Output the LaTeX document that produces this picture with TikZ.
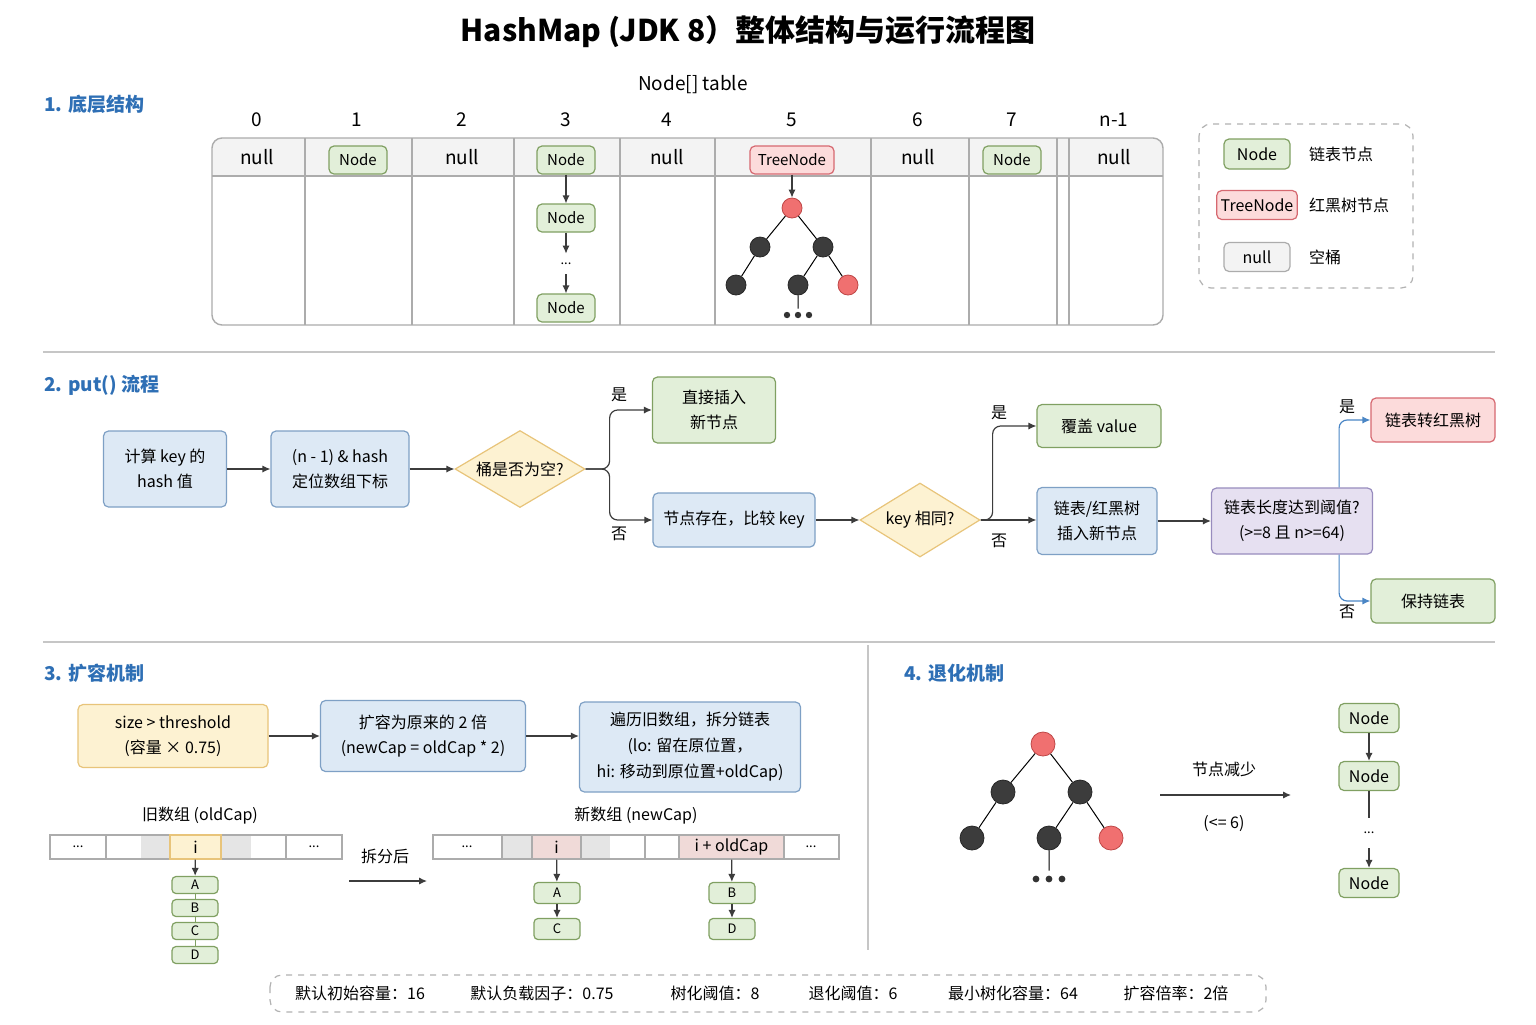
\documentclass[tikz,border=0pt]{standalone}
\usepackage{fontspec}
\setmainfont{Noto Sans CJK SC}
\usetikzlibrary{shapes.geometric,arrows.meta,positioning,calc}

\definecolor{headblue}{RGB}{46,111,181}
\definecolor{arrgray}{RGB}{60,60,60}
\definecolor{flowblue}{RGB}{74,134,197}
\definecolor{grfill}{RGB}{226,239,217}
\definecolor{grline}{RGB}{128,160,98}
\definecolor{rdfill}{RGB}{252,219,219}
\definecolor{rdline}{RGB}{214,104,112}
\definecolor{blfill}{RGB}{221,233,245}
\definecolor{blline}{RGB}{126,160,197}
\definecolor{ylfill}{RGB}{253,242,210}
\definecolor{ylline}{RGB}{232,196,122}
\definecolor{pufill}{RGB}{230,224,241}
\definecolor{puline}{RGB}{152,140,190}
\definecolor{nlfill}{RGB}{243,243,243}
\definecolor{treeblk}{RGB}{60,60,60}
\definecolor{treered}{RGB}{240,112,112}
\definecolor{treeredline}{RGB}{190,70,70}
\definecolor{cellpink}{RGB}{240,218,216}

\begin{document}
\begin{tikzpicture}[
  x=0.5pt, y=-0.5pt,
  font=\fontsize{8}{12.5}\selectfont,
  arr/.style={-{Latex[length=4pt,width=3.6pt]}, line width=0.6pt, draw=arrgray},
  barr/.style={arr, draw=flowblue},
  box/.style={draw, rounded corners=2.5pt, line width=0.6pt, align=center, inner sep=2pt},
  greenbox/.style={box, fill=grfill, draw=grline},
  redbox/.style={box, fill=rdfill, draw=rdline},
  bluebox/.style={box, fill=blfill, draw=blline},
  yellowbox/.style={box, fill=ylfill, draw=ylline},
  purplebox/.style={box, fill=pufill, draw=puline},
  nullbox/.style={box, fill=nlfill, draw=gray!65},
  tnode/.style={minimum width=29pt, minimum height=14pt, font=\fontsize{7.5}{9}\selectfont},
  decision/.style={diamond, aspect=1.7, draw=ylline, fill=ylfill, line width=0.6pt, align=center, inner sep=0.5pt},
  blacknode/.style={circle, fill=treeblk, draw=black!85, line width=0.4pt, minimum size=#1, inner sep=0pt},
  blacknode/.default=10pt,
  rednode/.style={circle, fill=treered, draw=treeredline, line width=0.4pt, minimum size=#1, inner sep=0pt},
  rednode/.default=10pt,
  dotsmark/.style={inner sep=0pt, minimum size=5pt}, % holds the three dots
  cellbox/.style={draw=gray!65, line width=0.6pt, minimum height=12pt, inner sep=0pt},
  chain/.style={greenbox, rounded corners=2pt, inner sep=0pt, minimum width=23pt, font=\fontsize{6.5}{8}\selectfont},
  head/.style={anchor=west, text=headblue, font=\fontsize{9.5}{12}\selectfont\bfseries},
  bigtext/.style={font=\fontsize{9.5}{12}\selectfont},
  smalltext/.style={font=\fontsize{6.5}{8}\selectfont},
  sepline/.style={gray!45, line width=0.6pt}
]
\useasboundingbox (0,0) rectangle (1536,1024);
\fill[white] (0,0) rectangle (1536,1024);

\node[font=\fontsize{15}{18}\selectfont\bfseries] (title) at (748,32) {HashMap (JDK 8）整体结构与运行流程图};

% 1. table
\node[head] (h1) at (37,104) {1. 底层结构};
\node[bigtext] (tbl) at (693,85) {Node[] table};
\foreach \lbl/\cx in {0/257,1/357,2/462,3/566,4/667,5/792,6/918,7/1012,n-1/1114}
  \node[bigtext] (idx\cx) at (\cx,120) {\lbl};
\begin{scope}
  \clip[rounded corners=5pt] (212,138) rectangle (1163,325);
  \fill[nlfill] (212,138) rectangle (1163,176);
\end{scope}
\draw[gray!65, line width=0.7pt, rounded corners=5pt] (212,138) rectangle (1163,325);
\draw[gray!65, line width=0.7pt] (212,176) -- (1163,176);
\foreach \cx in {305,412,514,620,715,871,969,1057,1069}
  \draw[gray!65, line width=0.7pt] (\cx,138) -- (\cx,325);

\node[bigtext] (b0) at (257,157) {null};
\node[greenbox, tnode] (b1) at (358,160) {Node};
\node[bigtext] (b2) at (462,157) {null};
\node[greenbox, tnode] (b3) at (566,160) {Node};
\node[greenbox, tnode] (b3b) at (566,218) {Node};
\node[inner sep=0pt, minimum height=10pt, smalltext] (b3d) at (566,264) {...};
\node[greenbox, tnode] (b3c) at (566,308) {Node};
\draw[arr] (b3) -- (b3b);
\draw[arr] (b3b) -- (b3d);
\draw[arr] (b3d) -- (b3c);
\node[bigtext] (b4) at (667,157) {null};
\node[redbox, tnode, minimum width=42pt] (b5) at (792,160) {TreeNode};
\node[rednode] (t1) at (792,208) {};
\node[blacknode] (t2) at (760,247) {};
\node[blacknode] (t3) at (823,247) {};
\node[blacknode] (t4) at (736,285) {};
\node[blacknode] (t5) at (798,285) {};
\node[rednode] (t6) at (848,285) {};
\node[dotsmark] (t7) at (798,314) {};
\foreach \dx in {-11,0,11}
  \fill[black!80] ($(t7)+(\dx,1)$) circle (1.6pt);
\draw[arr] (b5) -- (t1);
\draw[line width=0.5pt] (t1) -- (t2) (t1) -- (t3) (t2) -- (t4) (t3) -- (t5) (t3) -- (t6) (t5) -- (t7);
\node[bigtext] (b6) at (918,157) {null};
\node[greenbox, tnode] (b7) at (1012,160) {Node};
\node[bigtext] (b8) at (1114,157) {null};

% legend
\draw[gray!60, dashed, rounded corners=6pt, line width=0.6pt] (1199,124) rectangle (1413,288);
\node[greenbox, minimum width=33pt, minimum height=15pt] (lg1) at (1257,154) {Node};
\node[anchor=west] (lt1) at (1302,154) {链表节点};
\node[redbox, minimum width=40pt, minimum height=14.5pt] (lg2) at (1257,205) {TreeNode};
\node[anchor=west] (lt2) at (1302,205) {红黑树节点};
\node[nullbox, minimum width=33pt, minimum height=14.5pt] (lg3) at (1257,257) {null};
\node[anchor=west] (lt3) at (1302,257) {空桶};

\draw[sepline] (43,352) -- (1495,352);

% 2. put()
\node[head] (h2) at (37,385) {2. put() 流程};
\node[bluebox, minimum width=61.5pt, minimum height=38pt] (hashbox) at (165,469) {计算 key 的\\hash 值};
\node[bluebox, minimum width=69pt, minimum height=38pt] (idxbox) at (340,469) {(n - 1) \& hash\\定位数组下标};
\node[decision, minimum width=65pt, minimum height=38.5pt] (emptyq) at (520,469) {桶是否为空?};
\node[greenbox, minimum width=61.5pt, minimum height=33pt] (insertbox) at (714,410) {直接插入\\新节点};
\node[bluebox, minimum width=81pt, minimum height=27pt] (cmpbox) at (734,520) {节点存在，比较 key};
\node[decision, minimum width=60pt, minimum height=37pt] (keyq) at (920,520) {key 相同?};
\node[greenbox, minimum width=62pt, minimum height=21.5pt] (coverbox) at (1099,426) {覆盖 value};
\node[bluebox, minimum width=60pt, minimum height=33.5pt] (treeins) at (1097,521) {链表/红黑树\\插入新节点};
\node[purplebox, minimum width=80.5pt, minimum height=33pt] (lenq) at (1292,521) {链表长度达到阈值?\\(>=8 且 n>=64)};
\node[redbox, minimum width=62pt, minimum height=22pt] (totree) at (1433,420) {链表转红黑树};
\node[greenbox, minimum width=62pt, minimum height=22pt] (keeplist) at (1433,601) {保持链表};

\draw[arr] (hashbox) -- (idxbox);
\draw[arr] (idxbox) -- (emptyq);
\draw[arr, rounded corners=4pt] (emptyq.east) -- ++(24,0) |- (insertbox.west);
\draw[arr, rounded corners=4pt] (emptyq.east) -- ++(24,0) |- (cmpbox.west);
\node (y1) at (619,395) {是};
\node (n1) at (619,534) {否};
\draw[arr] (cmpbox) -- (keyq);
\draw[arr, rounded corners=4pt] (keyq.east) -- ++(12,0) |- (coverbox.west);
\draw[arr] (keyq.east) -- (treeins.west |- keyq.east);
\node (y2) at (999,413) {是};
\node (n2) at (999,541) {否};
\draw[arr] (treeins) -- (lenq);
\draw[barr, rounded corners=4pt] ($(lenq.north east)+(-34,0)$) |- (totree.west);
\draw[barr, rounded corners=4pt] ($(lenq.south east)+(-34,0)$) |- (keeplist.west);
\node (y3) at (1347,407) {是};
\node (n3) at (1347,612) {否};

\draw[sepline] (43,642) -- (1495,642);
\draw[sepline] (868,645) -- (868,950);

% 3. resize
\node[head] (h3) at (37,673) {3. 扩容机制};
\node[yellowbox, minimum width=95pt, minimum height=31.5pt] (thr) at (173,736) {size > threshold\\(容量 × 0.75)};
\node[bluebox, minimum width=102.5pt, minimum height=35.5pt] (dbl) at (423,736) {扩容为原来的 2 倍\\(newCap = oldCap * 2)};
\node[bluebox, minimum width=110.5pt, minimum height=45pt, font=\fontsize{8}{13}\selectfont] (split) at (690,747) {遍历旧数组，拆分链表\\(lo: 留在原位置，\\hi: 移动到原位置+oldCap)};
\draw[arr] (thr) -- (dbl);
\draw[arr] (dbl.east) -- (dbl.east -| split.west);

\node (oldlbl) at (200,816) {旧数组 (oldCap)};
\fill[gray!20] (141,835) rectangle (170,859);
\fill[gray!20] (221,835) rectangle (251,859);
\draw[gray!65, line width=0.6pt] (50,835) rectangle (342,859);
\foreach \cx in {106,286}
  \draw[gray!65, line width=0.6pt] (\cx,835) -- (\cx,859);
\node[smalltext] (od1) at (78,847) {...};
\node[smalltext] (od2) at (314,847) {...};
\node[cellbox, fill=ylfill, draw=ylline, minimum width=25.5pt] (oi) at (195.5,847) {i};
\node[chain, minimum height=8.5pt] (oA) at (195,885) {A};
\node[chain, minimum height=8.5pt] (oB) at (195,908) {B};
\node[chain, minimum height=8.5pt] (oC) at (195,931) {C};
\node[chain, minimum height=8.5pt] (oD) at (195,955) {D};
\draw[arr] (oi) -- (oA);
\draw[line width=0.5pt, grline] (oA) -- (oB) (oB) -- (oC) (oC) -- (oD);

\node (spl) at (385,856) {拆分后};
\coordinate (sp1) at (349,881);
\coordinate (sp2) at (427,881);
\draw[arr] (sp1) -- (sp2);

\node (newlbl) at (636,816) {新数组 (newCap)};
\fill[gray!20] (502,835) rectangle (532,859);
\fill[gray!20] (581,835) rectangle (610,859);
\draw[gray!65, line width=0.6pt] (433,835) rectangle (839,859);
\foreach \cx in {502,645,784}
  \draw[gray!65, line width=0.6pt] (\cx,835) -- (\cx,859);
\node[smalltext] (nd1) at (467,847) {...};
\node[smalltext] (nd2) at (811,847) {...};
\node[cellbox, fill=cellpink, minimum width=24.5pt] (ni) at (556.5,847) {i};
\node[cellbox, fill=cellpink, minimum width=52.5pt] (nio) at (731.5,847) {i + oldCap};
\node[chain, minimum height=10.5pt] (nA) at (557,893) {A};
\node[chain, minimum height=10.5pt] (nC) at (557,929) {C};
\node[chain, minimum height=10.5pt] (nB) at (732,893) {B};
\node[chain, minimum height=10.5pt] (nD) at (732,929) {D};
\draw[arr] (ni) -- (nA);
\draw[arr] (nA) -- (nC);
\draw[arr] (nio) -- (nB);
\draw[arr] (nB) -- (nD);

% 4. untreeify
\node[head] (h4) at (897,673) {4. 退化机制};
\node[rednode=12pt] (r1) at (1043,744) {};
\node[blacknode=12pt] (r2) at (1003,792) {};
\node[blacknode=12pt] (r3) at (1080,792) {};
\node[blacknode=12pt] (r4) at (972,838) {};
\node[blacknode=12pt] (r5) at (1049,838) {};
\node[rednode=12pt] (r6) at (1111,838) {};
\node[dotsmark] (r7) at (1049,876) {};
\foreach \dx in {-13,0,13}
  \fill[black!80] ($(r7)+(\dx,3)$) circle (1.7pt);
\draw[line width=0.5pt] (r1) -- (r2) (r1) -- (r3) (r2) -- (r4) (r3) -- (r5) (r3) -- (r6) (r5) -- (r7);

\coordinate (dg1) at (1160,795);
\coordinate (dg2) at (1291,795);
\draw[arr] (dg1) -- (dg2);
\node (dgt) at (1224,769) {节点减少};
\node (dgb) at (1224,824) {(<= 6)};

\node[greenbox, minimum width=30pt, minimum height=14.5pt] (l1) at (1369,718) {Node};
\node[greenbox, minimum width=30pt, minimum height=14.5pt] (l2) at (1369,776) {Node};
\node[inner sep=0pt, minimum height=15pt, smalltext] (ld) at (1369,833) {...};
\node[greenbox, minimum width=30pt, minimum height=14.5pt] (l3) at (1369,883) {Node};
\draw[arr] (l1) -- (l2);
\draw[line width=0.6pt, arrgray] (l2) -- (ld);
\draw[arr] (ld) -- (l3);

% constants
\draw[gray!60, dashed, rounded corners=6pt, line width=0.6pt] (270,975) rectangle (1266,1012);
\foreach \cx/\txt in {360/默认初始容量：16, 542/默认负载因子：0.75, 715/树化阈值：8, 853/退化阈值：6, 1013/最小树化容量：64, 1176/扩容倍率：2倍}
  \node[font=\fontsize{8}{10}\selectfont] (c\cx) at (\cx,993) {\txt};
\end{tikzpicture}
\end{document}
